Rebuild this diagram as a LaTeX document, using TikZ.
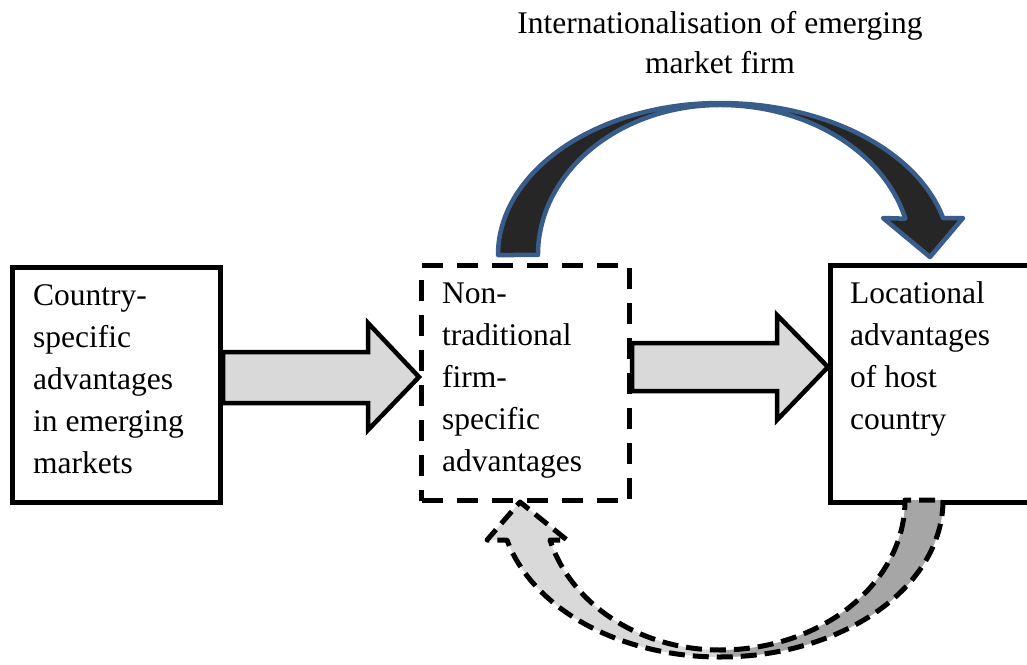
\documentclass[tikz,border=0pt]{standalone}
\usepackage{fontspec}
\setmainfont{Liberation Serif}
\definecolor{arrowgray}{HTML}{D9D9D9}
\definecolor{darkgray2}{HTML}{A6A6A6}
\definecolor{topfill}{HTML}{262626}
\definecolor{topline}{HTML}{385D8A}
\newcommand\botarrowpath{(943,500) arc[start angle=0, end angle=-90, x radius=223pt, y radius=157pt]
  arc[start angle=-90, end angle=-165.24, x radius=220.3pt, y radius=157pt]
  -- (487,540) -- (520,502) -- (567,540) -- (550,540)
  arc[start angle=-164.53, end angle=-90, x radius=176.4pt, y radius=150pt]
  arc[start angle=-90, end angle=0, x radius=185pt, y radius=150pt]
  -- cycle}
\begin{document}
\begin{tikzpicture}[x=1pt,y=-1pt,
  box/.style={draw=black, line width=5pt, fill=white, inner sep=0pt, anchor=north west},
  dbox/.style={draw=black, line width=5pt, dash pattern=on 21pt off 14pt, fill=white, inner sep=0pt, anchor=north west},
  txt/.style={anchor=north west, inner sep=0pt, align=left, font=\fontsize{31.5}{42}\selectfont},
  title/.style={anchor=north, inner sep=0pt, align=center, font=\fontsize{31.5}{40}\selectfont},
  blockarrow/.style={draw=black, line width=4.5pt, fill=arrowgray, line join=miter},
  toparrow/.style={draw=topline, line width=4.5pt, fill=topfill, line join=round},
  botdash/.style={draw=black, line width=5pt, dash pattern=on 16pt off 8pt, line join=round},
]
\useasboundingbox (0,0) rectangle (1027,664);
\clip (0,0) rectangle (1027,664);

% boxes
\node[box, minimum width=208pt, minimum height=235pt] (csa) at (10,265) {};
\node[dbox, minimum width=208pt, minimum height=235pt] (ntf) at (419,263) {};
\node[box, minimum width=220pt, minimum height=237pt] (loc) at (828,263) {};

% texts
\node[txt] (csatxt) at (33,275.6) {\strut Country-\\specific\\advantages\\in emerging\\markets};
\node[txt] (ntftxt) at (442,273.6) {\strut Non-\\traditional\\firm-\\specific\\advantages};
\node[txt] (loctxt) at (850,273.6) {\strut Locational\\advantages\\of host\\country};
\node[title] (ttl) at (720,5.6) {\strut Internationalisation of emerging\\market firm};

% straight block arrows
\draw[blockarrow] (csa.east |- 0,352) -- (368,352) -- (368,323) -- (ntf.west |- 0,377)
  -- (368,430) -- (368,403) -- (csa.east |- 0,403) -- cycle;
\draw[blockarrow] (ntf.east |- 0,343) -- (777,343) -- (777,315) -- (loc.west |- 0,367)
  -- (777,420) -- (777,391) -- (ntf.east |- 0,391) -- cycle;

% top curved arrow
\draw[toparrow] (498,255) arc[start angle=180, end angle=90, x radius=222pt, y radius=152pt]
  arc[start angle=90, end angle=14, x radius=230pt, y radius=152pt]
  -- (963,218) -- (930,257) -- (883,218) -- (905.3,218.7)
  arc[start angle=14, end angle=90, x radius=191pt, y radius=150pt]
  arc[start angle=90, end angle=180, x radius=182pt, y radius=150pt]
  -- cycle;

% bottom dashed curved arrow
\fill[arrowgray] \botarrowpath;
\fill[darkgray2] (943,500) arc[start angle=0, end angle=-90, x radius=223pt, y radius=157pt]
  -- (720,650) arc[start angle=-90, end angle=0, x radius=185pt, y radius=150pt] -- cycle;
\draw[botdash] \botarrowpath;
\end{tikzpicture}
\end{document}
